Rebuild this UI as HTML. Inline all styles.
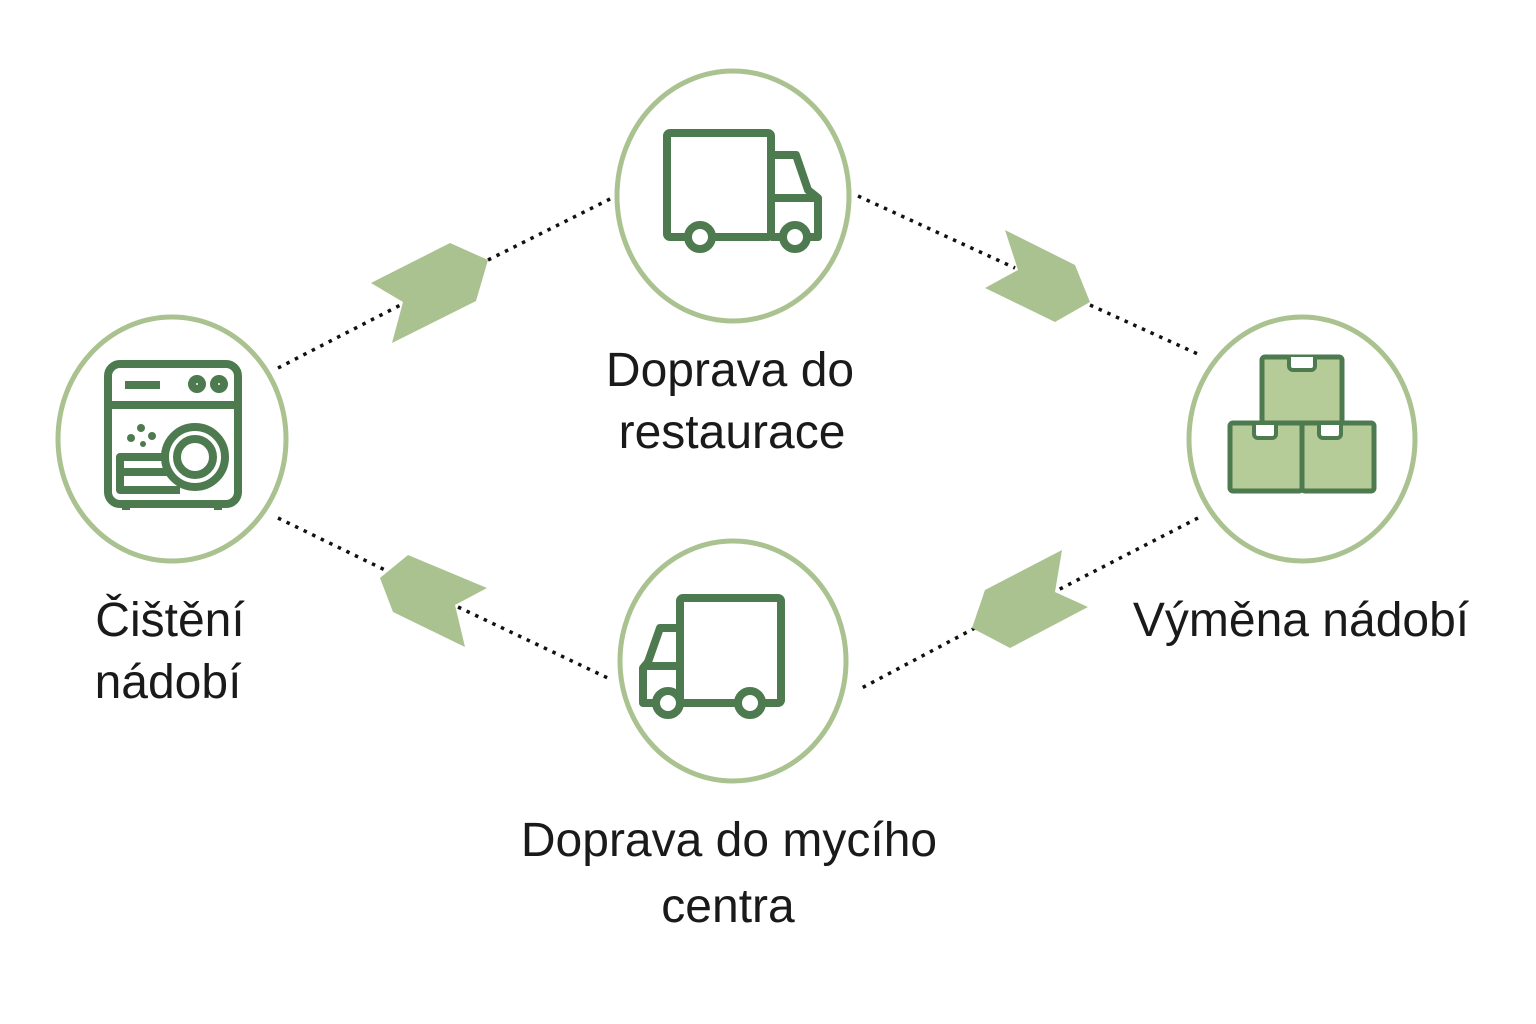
<!DOCTYPE html>
<html><head><meta charset="utf-8"><style>
html,body{margin:0;padding:0;background:#fff;}
svg{display:block;}
text{font-family:"Liberation Sans",sans-serif;fill:#1a1a1a;font-size:48px;}
</style></head><body>
<svg width="1536" height="1024" viewBox="0 0 1536 1024" xmlns="http://www.w3.org/2000/svg">
<g stroke="#111" stroke-width="3.5" stroke-dasharray="3.5 6" fill="none">
<line x1="278" y1="368" x2="488" y2="260"/><line x1="488" y1="260" x2="612" y2="198"/>
<line x1="858" y1="196" x2="1015" y2="268"/><line x1="1090" y1="305" x2="1200" y2="355"/>
<line x1="1198" y1="518" x2="1058" y2="590"/><line x1="975" y1="628" x2="858" y2="690"/>
<line x1="278" y1="518" x2="385" y2="570"/><line x1="458" y1="607" x2="612" y2="680"/>
</g>
<g fill="#a9c28f">
<polygon points="450,243 488,260 476,301 392,343 403,302 371,283"/>
<polygon points="1005,230 1075,265 1090,302 1055,322 985,288 1018,270"/>
<polygon points="1062,550 1055,592 1088,607 1010,648 972,628 985,590"/>
<polygon points="380,578 408,555 487,588 455,605 465,647 393,612"/>
</g>
<g fill="#fff" stroke="#a9c28f" stroke-width="5">
<ellipse cx="172" cy="439" rx="114" ry="122"/>
<ellipse cx="733" cy="196" rx="116" ry="125"/>
<ellipse cx="1302" cy="439" rx="113" ry="122"/>
<ellipse cx="733" cy="661" rx="113" ry="120"/>
</g>
<g stroke="#4e7a50" stroke-width="8" fill="none" stroke-linejoin="round">
<!-- top truck -->
<rect x="667" y="133" width="104" height="104" rx="3"/>
<path d="M771 155 H796 L808 190 L818 198 V237 H771"/>
<path d="M778 162 H792 L802 190 H778 Z" stroke-width="0"/>
<line x1="771" y1="198" x2="818" y2="198"/>
<circle cx="700" cy="237" r="12" fill="#fff"/><circle cx="795" cy="237" r="12" fill="#fff"/>
<!-- bottom truck -->
<rect x="680" y="598" width="101" height="105" rx="3"/>
<path d="M680 628 H660 L648 662 L643 668 V703 H680"/>
<line x1="643" y1="666" x2="680" y2="666"/>
<circle cx="668" cy="703" r="12" fill="#fff"/><circle cx="750" cy="703" r="12" fill="#fff"/>
<!-- dishwasher -->
<rect x="108" y="364" width="130" height="140" rx="12"/>
<line x1="108" y1="405" x2="238" y2="405"/>
<line x1="125" y1="385" x2="160" y2="385"/>
<circle cx="197" cy="384" r="5"/><circle cx="219" cy="384" r="5"/>
<circle cx="195" cy="457" r="30"/><circle cx="195" cy="457" r="18"/>
<path d="M165 457 H120 V490 H180"/>
<line x1="120" y1="472" x2="168" y2="472"/>
<line x1="126" y1="504" x2="126" y2="510"/><line x1="218" y1="504" x2="218" y2="510"/>
</g>
<g fill="#4e7a50"><circle cx="131" cy="438" r="4"/><circle cx="141" cy="428" r="4"/><circle cx="152" cy="436" r="4"/><circle cx="143" cy="444" r="3"/></g>
<g stroke="#4e7a50" stroke-width="5" fill="#b5cb98" stroke-linejoin="round">
<rect x="1262" y="357" width="80" height="66" rx="3"/>
<rect x="1230" y="423" width="72" height="68" rx="3"/>
<rect x="1302" y="423" width="72" height="68" rx="3"/>
</g>
<g fill="#fff" stroke="#4e7a50" stroke-width="4">
<path d="M1289 357 V366 a4 4 0 0 0 4 4 H1311 a4 4 0 0 0 4 -4 V357"/>
<path d="M1254 425 V434 a4 4 0 0 0 4 4 H1272 a4 4 0 0 0 4 -4 V425"/>
<path d="M1319 425 V434 a4 4 0 0 0 4 4 H1337 a4 4 0 0 0 4 -4 V425"/>
</g>
<g text-anchor="middle">
<text x="730" y="386">Doprava do</text>
<text x="732" y="448">restaurace</text>
<text x="170" y="636">Čištění</text>
<text x="168" y="698">nádobí</text>
<text x="1301" y="636">Výměna nádobí</text>
<text x="729" y="856">Doprava do mycího</text>
<text x="728" y="922">centra</text>
</g>
</svg>
</body></html>
